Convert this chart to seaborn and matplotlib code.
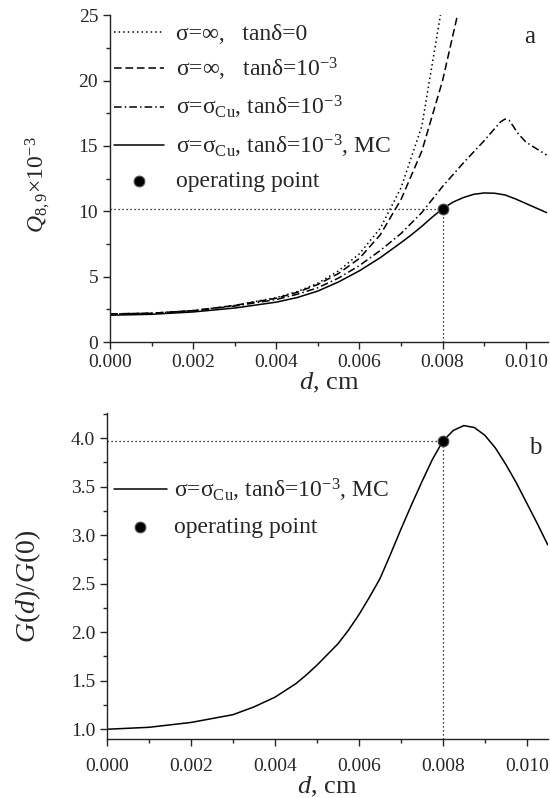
import matplotlib

matplotlib.use("Agg")
import matplotlib.pyplot as plt
import seaborn as sns
from matplotlib.ticker import FormatStrFormatter, MultipleLocator

OUTPUT_PATH = "out.png"

# --- panel a: Q factor vs d -------------------------------------------------
d_dotted = [0.0, 0.001, 0.002, 0.003, 0.004, 0.0045, 0.005, 0.0055, 0.006,
            0.0065, 0.007, 0.0075, 0.008]
q_dotted = [2.15, 2.2, 2.4, 2.8, 3.4, 3.85, 4.5, 5.45, 6.75, 8.7, 11.8, 16.5, 26.0]

d_dashed = [0.0, 0.001, 0.002, 0.003, 0.004, 0.0045, 0.005, 0.0055, 0.006,
            0.0065, 0.007, 0.0075, 0.008, 0.0085]
q_dashed = [2.15, 2.2, 2.4, 2.8, 3.35, 3.8, 4.4, 5.25, 6.4, 8.2, 10.9, 14.6, 20.0, 27.0]

d_dashdot = [0.0, 0.001, 0.002, 0.003, 0.004, 0.0045, 0.005, 0.0055, 0.006,
             0.0065, 0.007, 0.0075, 0.008, 0.0085, 0.009, 0.0093, 0.0094,
             0.0095, 0.0096, 0.0097, 0.0098, 0.010, 0.0105]
q_dashdot = [2.15, 2.2, 2.4, 2.75, 3.25, 3.65, 4.15, 4.9, 5.85, 7.0, 8.3, 9.9,
             11.9, 13.7, 15.4, 16.5, 16.85, 17.05, 16.95, 16.5, 16.0, 15.3, 14.3]

d_mc = [0.0, 0.001, 0.002, 0.003, 0.004, 0.0045, 0.005, 0.0055, 0.006, 0.0065,
        0.007, 0.00725, 0.0075, 0.00775, 0.008, 0.00825, 0.0085, 0.00875, 0.009,
        0.00925, 0.0095, 0.00975, 0.010, 0.01025, 0.0105]
q_mc = [2.05, 2.12, 2.3, 2.6, 3.05, 3.4, 3.9, 4.6, 5.45, 6.45, 7.6, 8.2, 8.85,
        9.55, 10.2, 10.7, 11.05, 11.3, 11.4, 11.38, 11.25, 10.95, 10.6, 10.25, 9.9]

op_d = 0.008
op_q = 10.2

# --- panel b: gain ratio vs d -----------------------------------------------
d_gain = [0.0, 0.001, 0.002, 0.003, 0.0035, 0.004, 0.00425, 0.0045, 0.00475,
          0.005, 0.00525, 0.0055, 0.00575, 0.006, 0.00625, 0.0065, 0.00675,
          0.007, 0.00725, 0.0075, 0.00775, 0.008, 0.00825, 0.0085, 0.00875,
          0.009, 0.00925, 0.0095, 0.00975, 0.010, 0.01025, 0.0105]
g_gain = [1.0, 1.02, 1.07, 1.15, 1.23, 1.33, 1.40, 1.47, 1.56, 1.66, 1.77, 1.88,
          2.02, 2.18, 2.36, 2.55, 2.80, 3.06, 3.31, 3.55, 3.78, 3.97, 4.08, 4.13,
          4.11, 4.03, 3.90, 3.73, 3.54, 3.33, 3.12, 2.9]
op_g = 3.97

LABELS = [
    "σ=∞,   tanδ=0",
    "σ=∞,   tanδ=10$^{-3}$",
    "σ=σ$_{\\rm Cu}$, tanδ=10$^{-3}$",
    "σ=σ$_{\\rm Cu}$, tanδ=10$^{-3}$, MC",
    "operating point",
]


def style_axis(ax, xmax, ymin, ymax, ymajor, yminor, yfmt, xpad):
    sns.despine(ax=ax)
    ax.set_xlim(0.0, xmax)
    ax.set_ylim(ymin, ymax)
    ax.xaxis.set_major_locator(MultipleLocator(0.002))
    ax.xaxis.set_minor_locator(MultipleLocator(0.001))
    ax.yaxis.set_major_locator(MultipleLocator(ymajor))
    ax.yaxis.set_minor_locator(MultipleLocator(yminor))
    ax.xaxis.set_major_formatter(FormatStrFormatter("%.3f"))
    ax.yaxis.set_major_formatter(FormatStrFormatter(yfmt))
    ax.tick_params(which="major", direction="out", length=5, width=1, labelsize=14)
    ax.tick_params(axis="x", which="major", pad=xpad)
    ax.tick_params(which="minor", direction="out", length=3, width=1)
    for side in ("left", "bottom"):
        ax.spines[side].set_linewidth(1.0)
        ax.spines[side].set_color("#222222")


def draw_operating_point(ax, x, y, label):
    ax.hlines(y, 0.0, x, colors="black", linestyles=(0, (1, 2.2)), linewidth=0.9)
    ax.vlines(x, ax.get_ylim()[0], y, colors="black", linestyles=(0, (1, 2.2)),
              linewidth=0.9)
    sns.scatterplot(x=[x], y=[y], ax=ax, color="black", s=60, edgecolor="#555555",
                    linewidth=0.8, zorder=5, label=label)


def main() -> None:
    sns.set_style("ticks")
    plt.rcParams["font.family"] = ["Liberation Serif", "DejaVu Serif"]
    plt.rcParams["mathtext.fontset"] = "custom"
    plt.rcParams["mathtext.rm"] = "Liberation Serif"
    plt.rcParams["mathtext.it"] = "Liberation Serif:italic"
    plt.rcParams["mathtext.bf"] = "Liberation Serif:bold"

    fig = plt.figure(figsize=(5.5, 7.98), dpi=100)
    ax_a = fig.add_axes([0.200, 0.5714, 0.796, 0.4096])
    ax_b = fig.add_axes([0.1945, 0.0740, 0.8015, 0.4085])

    line_kw = dict(color="black", linewidth=1.1, sort=False, estimator=None)
    sns.lineplot(x=d_dotted, y=q_dotted, ax=ax_a, linestyle=(0, (1, 2)),
                 label=LABELS[0], **line_kw)
    sns.lineplot(x=d_dashed, y=q_dashed, ax=ax_a, linestyle=(0, (5, 2.5)),
                 label=LABELS[1], **line_kw)
    sns.lineplot(x=d_dashdot, y=q_dashdot, ax=ax_a, linestyle=(0, (5, 2, 1, 2)),
                 label=LABELS[2], **line_kw)
    sns.lineplot(x=d_mc, y=q_mc, ax=ax_a, linestyle="-", label=LABELS[3], **line_kw)
    style_axis(ax_a, 0.01053, 0.0, 25.0, 5, 2.5, "%d", xpad=3.5)
    draw_operating_point(ax_a, op_d, op_q, LABELS[4])
    ax_a.set_xlabel("$d$, cm", fontsize=19, labelpad=0)
    ax_a.set_ylabel("$Q_{8,9}$×10$^{-3}$", fontsize=17)
    ax_a.yaxis.set_label_coords(-0.132, 0.48)
    ax_a.text(0.0101, 23.3, "a", fontsize=18, ha="center", va="center")
    ax_a.legend(loc="upper left", bbox_to_anchor=(0.01, 0.975), frameon=False,
                fontsize=17, handlelength=2.1, handletextpad=0.5,
                labelspacing=0.47, borderpad=0, borderaxespad=0)

    sns.lineplot(x=d_gain, y=g_gain, ax=ax_b, linestyle="-", label=LABELS[3], **line_kw)
    style_axis(ax_b, 0.0105, 0.9, 4.26, 0.5, 0.25, "%.1f", xpad=9)
    draw_operating_point(ax_b, op_d, op_g, LABELS[4])
    ax_b.set_xlabel("$d$, cm", fontsize=19, labelpad=0)
    ax_b.set_ylabel("$G(d)/G(0)$", fontsize=20)
    ax_b.yaxis.set_label_coords(-0.145, 0.469)
    ax_b.text(0.0102, 3.9, "b", fontsize=18, ha="center", va="center")
    ax_b.legend(loc="upper left", bbox_to_anchor=(0.015, 0.805), frameon=False,
                fontsize=17, handlelength=2.25, handletextpad=0.3,
                labelspacing=0.56, borderpad=0, borderaxespad=0)

    fig.savefig(OUTPUT_PATH, dpi=100)
    plt.close(fig)


if __name__ == "__main__":
    main()
